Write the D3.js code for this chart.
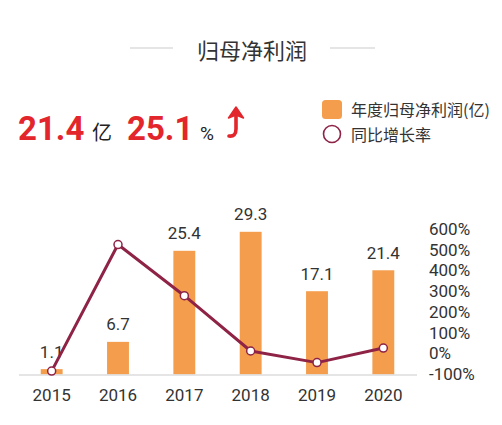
<!DOCTYPE html>
<html>
<head>
<meta charset="utf-8">
<script src="https://cdn.jsdelivr.net/npm/d3@7"></script>
<style>
  html, body { margin: 0; padding: 0; background: #fff; }
  svg { display: block; }
  .cn { font-family: "Noto Sans CJK SC", "Noto Sans", sans-serif; }
  .num { font-family: Roboto, "Noto Sans", sans-serif; }
</style>
</head>
<body>
<script>
// chart data
var years = ["2015", "2016", "2017", "2018", "2019", "2020"];
var profit = [1.1, 6.7, 25.4, 29.3, 17.1, 21.4];          // 年度归母净利润(亿)
var growth = [-86, 525, 278, 11, -45, 25.1];               // 同比增长率 (%)
var pctTicks = [-100, 0, 100, 200, 300, 400, 500, 600];

var width = 502, height = 425;
var orange = "#F49D4C", maroon = "#8E2346", red = "#E2262C";

var svg = d3.select("body").append("svg")
    .attr("width", width)
    .attr("height", height);

// title with side rules
svg.append("text").attr("class", "cn")
    .attr("x", 252).attr("y", 49)
    .attr("text-anchor", "middle").attr("dominant-baseline", "central")
    .attr("font-size", "22px").attr("fill", "#333")
    .text("归母净利润");
svg.append("line").attr("x1", 130).attr("x2", 173).attr("y1", 48).attr("y2", 48)
    .attr("stroke", "#ccc").attr("stroke-width", 1.2);
svg.append("line").attr("x1", 330).attr("x2", 375).attr("y1", 48).attr("y2", 48)
    .attr("stroke", "#ccc").attr("stroke-width", 1.2);

// headline figures
var head = svg.append("text").attr("y", 140);
head.append("tspan").attr("class", "num").attr("x", 18)
    .attr("font-size", "33px").attr("font-weight", "bold").attr("fill", red)
    .text(profit[profit.length - 1]);
head.append("tspan").attr("class", "cn").attr("x", 92)
    .attr("font-size", "20px").attr("fill", "#222").text("亿");
head.append("tspan").attr("class", "num").attr("x", 127)
    .attr("font-size", "33px").attr("font-weight", "bold").attr("fill", red)
    .text(growth[growth.length - 1]);
head.append("tspan").attr("class", "num").attr("x", 200)
    .attr("font-size", "19px").attr("fill", "#222").text("%");

// up arrow
svg.append("path")
    .attr("d", "M229,136 Q236,137 236,129 L236,115")
    .attr("fill", "none").attr("stroke", red).attr("stroke-width", 3.6)
    .attr("stroke-linecap", "round");
svg.append("path")
    .attr("d", "M236,107 L243.5,118 L236,115 L228.5,118 Z")
    .attr("fill", red).attr("stroke", red).attr("stroke-width", 1.5)
    .attr("stroke-linejoin", "round");

// legend
svg.append("rect").attr("x", 322).attr("y", 100).attr("width", 20).attr("height", 19)
    .attr("rx", 3.5).attr("fill", orange);
svg.append("text").attr("class", "cn").attr("x", 351).attr("y", 109)
    .attr("dominant-baseline", "central").attr("font-size", "16px").attr("fill", "#333")
    .text("年度归母净利润(亿)");
svg.append("circle").attr("cx", 332).attr("cy", 134).attr("r", 8.5)
    .attr("fill", "#fff").attr("stroke", maroon).attr("stroke-width", 1.6);
svg.append("text").attr("class", "cn").attr("x", 351).attr("y", 134)
    .attr("dominant-baseline", "central").attr("font-size", "16px").attr("fill", "#333")
    .text("同比增长率");

// scales
var baseY = 374.5;
var xScale = d3.scaleBand().domain(years).range([18.5, 416.5])
    .paddingInner(0.67).paddingOuter(0.335);
var yBar = d3.scaleLinear().domain([0, 30]).range([baseY, baseY - 30 * 4.87]);
var yPct = d3.scaleLinear().domain([-100, 600]).range([374, 229]);

// bars
svg.selectAll("rect.bar")
    .data(profit)
    .enter()
    .append("rect")
    .attr("class", "bar")
    .attr("x", function(d, i) { return xScale(years[i]); })
    .attr("y", function(d) { return yBar(d); })
    .attr("width", xScale.bandwidth())
    .attr("height", function(d) { return baseY - yBar(d); })
    .attr("fill", orange);

// bar value labels
svg.selectAll("text.val")
    .data(profit)
    .enter()
    .append("text")
    .attr("class", "val num")
    .attr("x", function(d, i) { return xScale(years[i]) + xScale.bandwidth() / 2; })
    .attr("y", function(d) { return yBar(d) - 11.5; })
    .attr("text-anchor", "middle")
    .attr("font-size", "17px")
    .attr("fill", "#333")
    .text(function(d) { return d.toFixed(1); });

// x axis (baseline + years)
var xAxis = d3.axisBottom(xScale).tickSize(0).tickPadding(14);
var gx = svg.append("g")
    .attr("transform", "translate(0," + baseY + ")")
    .call(xAxis);
gx.select(".domain").attr("stroke", "#ddd").attr("stroke-width", 1.5);
gx.selectAll("text")
    .attr("font-family", "Roboto, sans-serif")
    .attr("font-size", "17px")
    .attr("fill", "#333");

// right percent axis
var yAxis = d3.axisRight(yPct).tickValues(pctTicks).tickSize(0).tickPadding(0)
    .tickFormat(function(d) { return d + "%"; });
var gy = svg.append("g")
    .attr("transform", "translate(429,0)")
    .call(yAxis);
gy.select(".domain").remove();
gy.selectAll("text")
    .attr("font-family", "Roboto, sans-serif")
    .attr("font-size", "17px")
    .attr("fill", "#333");

// growth line
var line = d3.line()
    .x(function(d, i) { return xScale(years[i]) + xScale.bandwidth() / 2; })
    .y(function(d) { return yPct(d); });
svg.append("path")
    .datum(growth)
    .attr("d", line)
    .attr("fill", "none")
    .attr("stroke", maroon)
    .attr("stroke-width", 3)
    .attr("stroke-linejoin", "round");

svg.selectAll("circle.pt")
    .data(growth)
    .enter()
    .append("circle")
    .attr("class", "pt")
    .attr("cx", function(d, i) { return xScale(years[i]) + xScale.bandwidth() / 2; })
    .attr("cy", function(d) { return yPct(d); })
    .attr("r", 4)
    .attr("fill", "#fff")
    .attr("stroke", maroon)
    .attr("stroke-width", 1.5);
</script>
</body>
</html>
